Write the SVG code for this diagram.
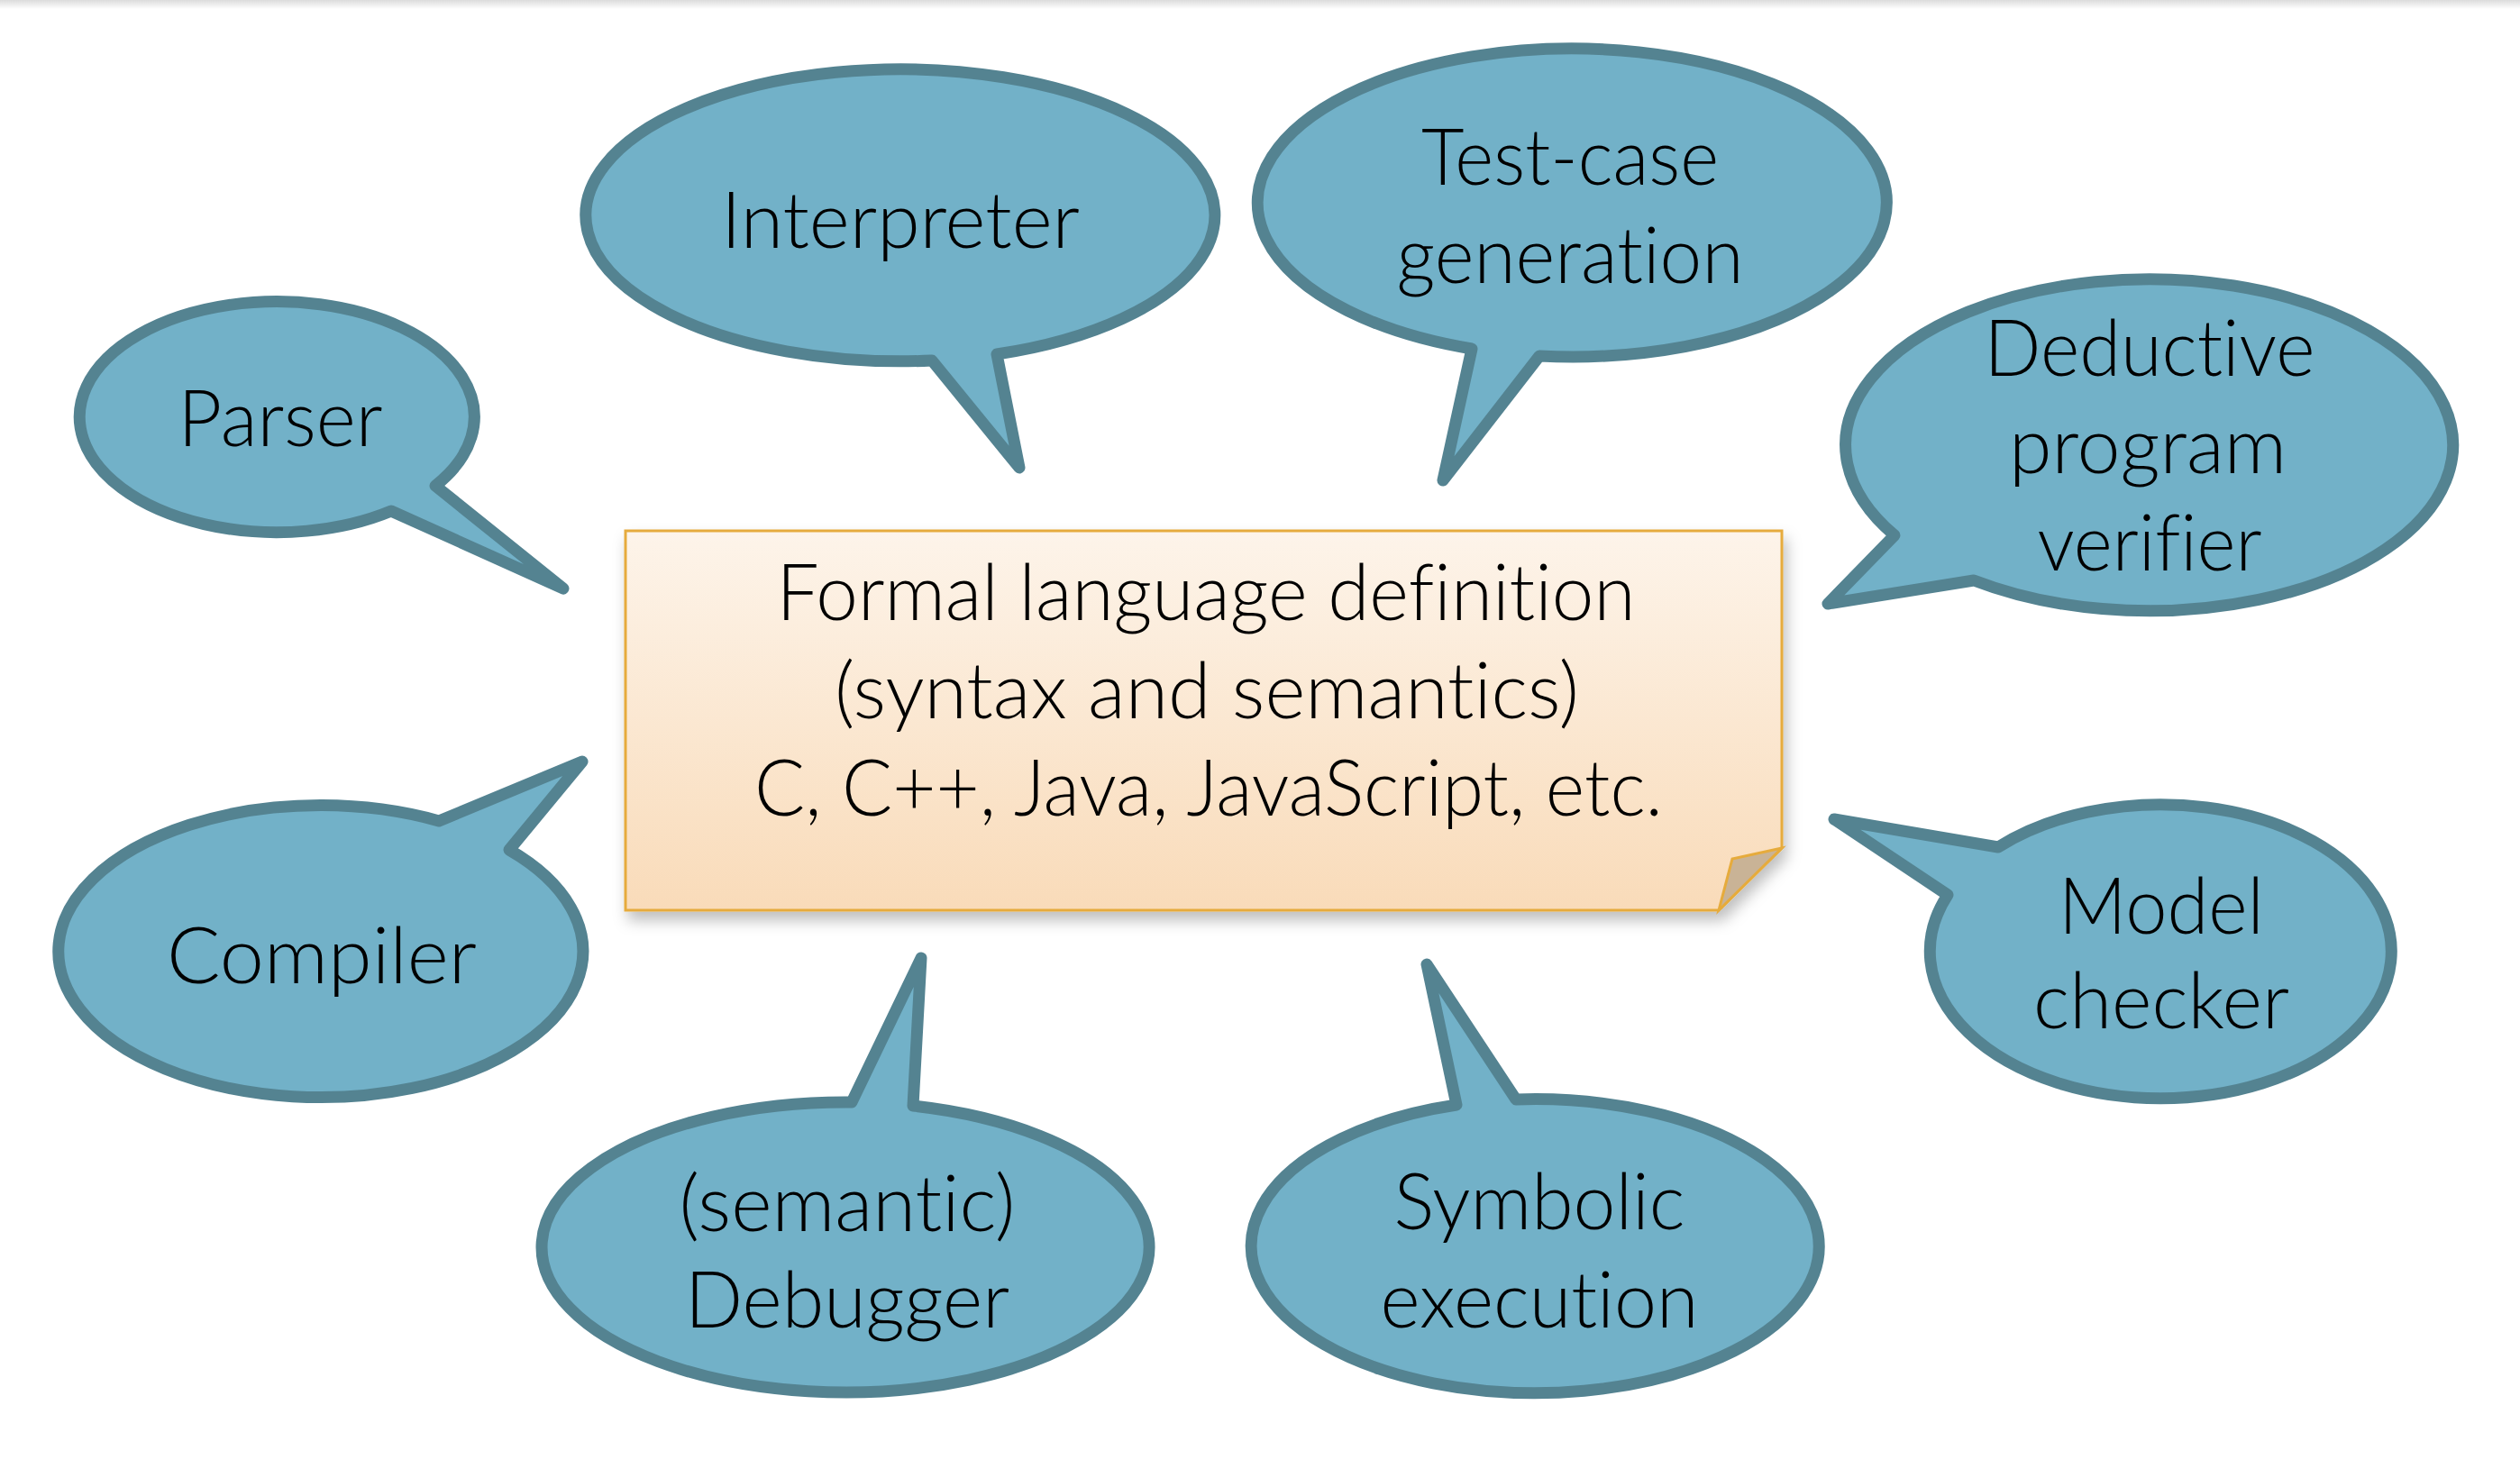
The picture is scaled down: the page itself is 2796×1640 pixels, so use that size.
<svg xmlns="http://www.w3.org/2000/svg" width="2796" height="1640" viewBox="0 0 2796 1640">
<style>
.bub{fill:#72b1c8;stroke:#548391;stroke-width:13;stroke-linejoin:round;stroke-linecap:round}
.t{font-family:Lato,"Open Sans","Liberation Sans",sans-serif;font-weight:300;font-size:86px;fill:#000;text-anchor:middle;font-variant-ligatures:none;font-feature-settings:"liga" 0,"dlig" 0}
.note{fill:url(#ng);stroke:#e6ab3c;stroke-width:3;stroke-linejoin:miter}
.fold{fill:#c9b396;stroke:#e6ab3c;stroke-width:3;stroke-linejoin:miter}
</style>
<defs>
<linearGradient id="ng" x1="0" y1="0" x2="0" y2="1">
<stop offset="0" stop-color="#fdf4ea"/>
<stop offset="1" stop-color="#f9dbb9"/>
</linearGradient>
<linearGradient id="topsh" x1="0" y1="0" x2="0" y2="1">
<stop offset="0" stop-color="#dcdcdc"/>
<stop offset="1" stop-color="#ffffff"/>
</linearGradient>
<filter id="sh" x="-5%" y="-5%" width="115%" height="120%">
<feDropShadow dx="4" dy="10" stdDeviation="8" flood-color="#000" flood-opacity="0.25"/>
</filter>
</defs>
<rect width="2796" height="1640" fill="#fff"/>
<rect width="2796" height="10" fill="url(#topsh)"/>

<g id="connectors"></g>

<g id="parser">
<path class="bub" d="M483,539 L625,653 L434,567 A219,128 0 1 1 483,539 Z"/>
<text class="t" x="311" y="495" textLength="227" lengthAdjust="spacingAndGlyphs">Parser</text>
</g>

<g id="interpreter">
<path class="bub" d="M1106,393 L1131,519 L1034,400 A349,162 0 1 1 1106,393 Z"/>
<text class="t" x="999" y="275" textLength="398" lengthAdjust="spacingAndGlyphs">Interpreter</text>
</g>

<g id="testcase">
<path class="bub" d="M1708,395 L1601,533 L1633,387 A349,171 0 1 1 1708,395 Z"/>
<text class="t" x="1742" y="205" textLength="330" lengthAdjust="spacingAndGlyphs">Test-case</text>
<text class="t" x="1742" y="314" textLength="385" lengthAdjust="spacingAndGlyphs">generation</text>
</g>

<g id="verifier">
<path class="bub" d="M2190,644 L2028,670 L2102,594 A337,184 0 1 1 2190,644 Z"/>
<text class="t" x="2385" y="417" textLength="367" lengthAdjust="spacingAndGlyphs">Deductive</text>
<text class="t" x="2383" y="525" textLength="308" lengthAdjust="spacingAndGlyphs">program</text>
<text class="t" x="2385" y="633" textLength="249" lengthAdjust="spacingAndGlyphs">verifier</text>
</g>

<g id="modelchecker">
<path class="bub" d="M2161,993 L2035,909 L2217,940 A256,163 0 1 1 2161,993 Z"/>
<text class="t" x="2398" y="1036" textLength="228" lengthAdjust="spacingAndGlyphs">Model</text>
<text class="t" x="2398" y="1141" textLength="284" lengthAdjust="spacingAndGlyphs">checker</text>
</g>

<g id="symbolic">
<path class="bub" d="M1616,1226 L1583,1070 L1682,1220 A315,163 0 1 1 1616,1226 Z"/>
<text class="t" x="1708" y="1364" textLength="323" lengthAdjust="spacingAndGlyphs">Symbolic</text>
<text class="t" x="1708" y="1473" textLength="353" lengthAdjust="spacingAndGlyphs">execution</text>
</g>

<g id="debugger">
<path class="bub" d="M945,1223 L1022,1063 L1013,1227 A337,161 0 1 1 945,1223 Z"/>
<text class="t" x="940" y="1366" textLength="373" lengthAdjust="spacingAndGlyphs">(semantic)</text>
<text class="t" x="940" y="1473" textLength="360" lengthAdjust="spacingAndGlyphs">Debugger</text>
</g>

<g id="compiler">
<path class="bub" d="M487,911 L646,845 L565,943 A291,162 0 1 1 487,911 Z"/>
<text class="t" x="357" y="1091" textLength="344" lengthAdjust="spacingAndGlyphs">Compiler</text>
</g>

<g id="definition">
<g filter="url(#sh)">
<path class="note" d="M694,589 H1977 V941 L1907,1010 H694 Z"/>
</g>
<path class="fold" d="M1977,941 L1922,953 L1907,1010 Z"/>
<text class="t" x="1338" y="688" textLength="953" lengthAdjust="spacingAndGlyphs">Formal language definition</text>
<text class="t" x="1339" y="797" textLength="826" lengthAdjust="spacingAndGlyphs">(syntax and semantics)</text>
<text class="t" x="1341" y="905" textLength="1008" lengthAdjust="spacingAndGlyphs">C, C++, Java, JavaScript, etc.</text>
</g>
</svg>
